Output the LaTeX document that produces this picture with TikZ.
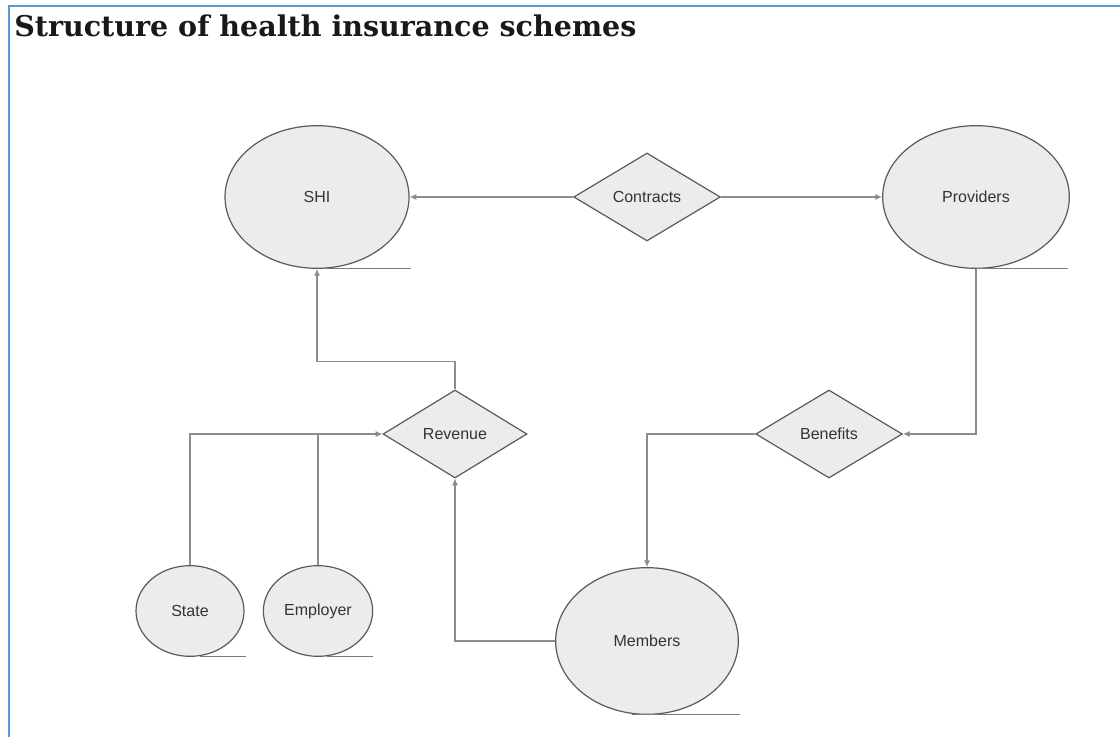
\documentclass[tikz,border=0pt]{standalone}
\usepackage{fontspec}
\setmainfont{DejaVu Serif}
\newfontfamily\labelfont{Liberation Sans}
\usetikzlibrary{shapes.geometric,arrows.meta}
\definecolor{framecol}{HTML}{5B9BD5}
\definecolor{fillgray}{HTML}{ECECEC}
\definecolor{edgegray}{HTML}{5A5A5A}
\definecolor{linegray}{HTML}{8C8C8C}
\tikzset{
  entity/.style={ellipse, draw=edgegray, line width=0.9pt, fill=fillgray, inner sep=0pt,
    font=\labelfont\fontsize{12}{14}\selectfont, text=black!80},
  relation/.style={diamond, draw=edgegray, line width=0.9pt, fill=fillgray, inner sep=0pt,
    font=\labelfont\fontsize{12}{14}\selectfont, text=black!80},
  conn/.style={draw=linegray, line width=0.8pt},
  arr/.style={conn, -{Latex[length=5pt,width=4.5pt]}},
  uline/.style={draw=edgegray!80, line width=0.8pt}
}
\begin{document}
\begin{tikzpicture}[x=0.75pt,y=-0.75pt]
\useasboundingbox (0,0) rectangle (1120,737);
% frame
\draw[framecol, line width=1.5pt] (9,737) -- (9,6) -- (1120,6);
% title
\node[anchor=base west, inner sep=0pt, font=\bfseries\fontsize{21.4}{25}\selectfont, text=black!90] (title) at (14,37) {Structure of health insurance schemes};
% entities
\node[entity, minimum width=138pt, minimum height=107pt] (shi) at (317,197) {SHI};
\node[entity, minimum width=140pt, minimum height=107pt] (prov) at (976,197) {Providers};
\node[entity, minimum width=137pt, minimum height=110pt] (mem) at (647,641) {Members};
\node[entity, minimum width=81pt, minimum height=68pt] (state) at (190,611) {State};
\node[entity, minimum width=82pt, minimum height=68pt] (emp) at (318,611) {Employer};
% relations
\node[relation, minimum width=110pt, minimum height=66pt] (contr) at (647,197) {Contracts};
\node[relation, minimum width=110pt, minimum height=66pt] (ben) at (829,434) {Benefits};
\node[relation, minimum width=108pt, minimum height=66pt] (rev) at (455,434) {Revenue};
% underlines
\draw[uline] (shi.south) ++(8,0) -- ++(86,0);
\draw[uline] (prov.south) -- ++(92,0);
\draw[uline] (mem.south) ++(-15,0) -- ++(108,0);
\draw[uline] (state.south) ++(10,0) -- ++(46,0);
\draw[uline] (emp.south) ++(9,0) -- ++(46,0);
% connectors
\draw[arr] (contr.west) -- (shi.east);
\draw[arr] (contr.east) -- (prov.west);
\draw[arr] (prov.south) |- (ben.east);
\draw[arr] (ben.west) -| (mem.north);
\draw[arr] (mem.west) -| (rev.south);
\draw[arr] (rev.north) -- ++(0,-28) -| (shi.south);
\draw[arr] (state.north) |- (rev.west);
\draw[conn] (emp.north) -- (emp.north |- rev.west);
\end{tikzpicture}
\end{document}
